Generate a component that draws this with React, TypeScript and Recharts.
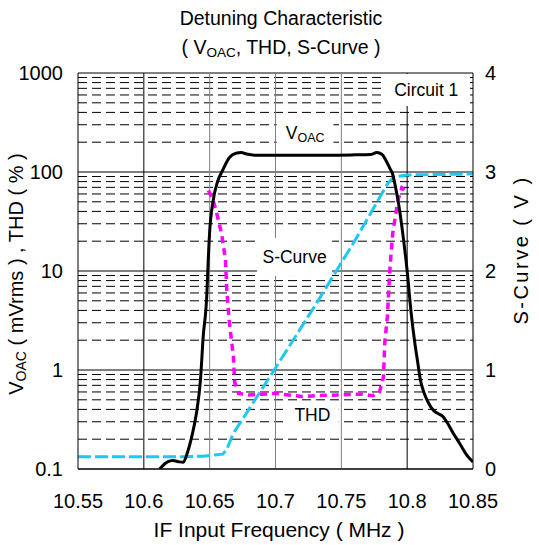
import React from 'react';
import { ComposedChart, Line, XAxis, YAxis, CartesianGrid, ReferenceArea } from 'recharts';

// ---- axis ticks ----
const xTicks = [10.55, 10.6, 10.65, 10.7, 10.75, 10.8, 10.85];
const leftTicks = [0.1, 1, 10, 100, 1000];
const rightTicks = [0, 1, 2, 3, 4];
const majorGridX = [10.6, 10.8];
const minorGridX = [10.65, 10.7, 10.75];
const decades = [0.1, 1, 10, 100];
const minorMultipliers = [2, 3, 4, 5, 6, 7, 8, 9];

// ---- V_OAC (mVrms), left log axis ----
const voacFreq = [10.612, 10.618, 10.622, 10.627, 10.63, 10.633, 10.637, 10.64, 10.643, 10.645, 10.648, 10.6485, 10.65, 10.6525, 10.656, 10.66, 10.665, 10.67, 10.674, 10.678, 10.684, 10.7, 10.72, 10.74, 10.76, 10.772, 10.777, 10.781, 10.784, 10.787, 10.789, 10.791, 10.793, 10.797, 10.8, 10.803, 10.806, 10.808, 10.81, 10.813, 10.816, 10.82, 10.824, 10.827, 10.83, 10.835, 10.84, 10.845, 10.85];
const voacVal = [0.1, 0.118, 0.122, 0.118, 0.117, 0.145, 0.23, 0.37, 0.79, 2.1, 6.4, 9.5, 25, 50, 80, 105, 140, 155, 157, 152, 148, 148, 148, 148, 149, 150, 157, 150, 130, 108, 95, 72, 52, 22, 10, 3.8, 1.8, 1.2, 0.8, 0.58, 0.47, 0.39, 0.36, 0.34, 0.3, 0.23, 0.18, 0.14, 0.118];

// ---- THD (%), left log axis ----
const thdFreq = [10.649, 10.652, 10.655, 10.659, 10.662, 10.663, 10.665, 10.668, 10.669, 10.672, 10.68, 10.69, 10.7, 10.71, 10.72, 10.73, 10.75, 10.765, 10.774, 10.779, 10.782, 10.783, 10.785, 10.786, 10.787, 10.789, 10.793, 10.796, 10.798];
const thdVal = [65, 55, 40, 24, 13, 6.4, 3.0, 1.37, 0.75, 0.58, 0.56, 0.57, 0.58, 0.56, 0.54, 0.55, 0.56, 0.57, 0.55, 0.6, 0.85, 1.9, 3.5, 6.4, 11, 24, 52, 69, 66];

// ---- S-Curve (V), right linear axis ----
const sFreq = [10.55, 10.6, 10.63, 10.645, 10.66, 10.663, 10.668, 10.7, 10.73, 10.76, 10.785, 10.79, 10.8, 10.85];
const sVal = [0.125, 0.125, 0.125, 0.13, 0.15, 0.2, 0.36, 1.02, 1.65, 2.3, 2.88, 2.95, 2.97, 2.98];

const zip = (fs: number[], vs: number[]) => fs.map((f, i) => ({ f, v: vs[i] }));
const voacData = zip(voacFreq, voacVal);
const thdData = zip(thdFreq, thdVal);
const sData = zip(sFreq, sVal);
const minorGridY = decades.flatMap((d) => minorMultipliers.map((m) => m * d));

const FONT = 'Liberation Sans, Arial, sans-serif';
const FS = 17.5;
const TFS = 20;

const boxLabel = (text: React.ReactNode) => (props: any) => {
  const vb = props.viewBox || {};
  const cx = vb.x + vb.width / 2;
  const cy = vb.y + vb.height / 2;
  return (
    <text x={cx} y={cy} textAnchor="middle" dominantBaseline="central" fontFamily={FONT} fontSize={FS} fill="#000">
      {text}
    </text>
  );
};

export default function App() {
  return (
    <div style={{ position: 'absolute', left: 0, top: 0, width: 539, height: 545, background: '#fff' }}>
      <ComposedChart width={539} height={545} margin={{ top: 73, right: 0, bottom: 0, left: 0 }}>
        <CartesianGrid yAxisId="left" horizontal vertical={false} horizontalValues={minorGridY} stroke="#000" strokeDasharray="9 5" strokeWidth={1} />
        <CartesianGrid yAxisId="left" horizontal vertical={false} horizontalValues={leftTicks} stroke="#000" strokeWidth={1} />
        <CartesianGrid yAxisId="left" horizontal={false} vertical verticalValues={majorGridX} stroke="#000" strokeWidth={1} />
        <CartesianGrid yAxisId="left" horizontal={false} vertical verticalValues={minorGridX} stroke="#808080" strokeWidth={1} />
        <XAxis
          dataKey="f"
          type="number"
          domain={[10.55, 10.85]}
          ticks={xTicks}
          allowDataOverflow
          height={76}
          tickLine={false}
          tickSize={0}
          tickMargin={25}
          axisLine={{ stroke: '#000', strokeWidth: 1 }}
          tick={{ fontSize: TFS, fill: '#000', fontFamily: FONT }}
          interval={0}
        />
        <YAxis
          yAxisId="left"
          orientation="left"
          scale="log"
          domain={[0.1, 1000]}
          ticks={leftTicks}
          allowDataOverflow
          width={78}
          tickLine={false}
          tickSize={0}
          tickMargin={15}
          axisLine={{ stroke: '#000', strokeWidth: 1 }}
          tick={{ fontSize: TFS, fill: '#000', fontFamily: FONT }}
          interval={0}
        />
        <YAxis
          yAxisId="right"
          orientation="right"
          domain={[0, 4]}
          ticks={rightTicks}
          allowDataOverflow
          width={66}
          tickLine={false}
          tickSize={0}
          tickMargin={12}
          axisLine={{ stroke: '#000', strokeWidth: 1 }}
          tick={{ fontSize: TFS, fill: '#000', fontFamily: FONT }}
          interval={0}
        />
        <ReferenceArea yAxisId="left" x1={10.783} x2={10.846} y1={464} y2={977} fill="#fff" fillOpacity={1} stroke="none" label={boxLabel('Circuit 1')} />
        <ReferenceArea yAxisId="left" x1={10.701} x2={10.744} y1={175} y2={351} fill="#fff" fillOpacity={1} stroke="none"
          label={boxLabel(<>V<tspan fontSize={12.5} dy={5}>OAC</tspan></>)} />
        <ReferenceArea yAxisId="left" x1={10.686} x2={10.743} y1={8.9} y2={21.5} fill="#fff" fillOpacity={1} stroke="none" label={boxLabel('S-Curve')} />
        <ReferenceArea yAxisId="left" x1={10.708} x2={10.748} y1={0.266} y2={0.464} fill="#fff" fillOpacity={1} stroke="none" label={boxLabel('THD')} />
        <Line yAxisId="right" data={sData} dataKey="v" type="linear" stroke="#1EC8F0" strokeWidth={3} strokeDasharray="13 4" dot={false} activeDot={false} isAnimationActive={false} />
        <Line yAxisId="left" data={thdData} dataKey="v" type="linear" stroke="#FF00FF" strokeWidth={3.5} strokeDasharray="7 5" dot={false} activeDot={false} isAnimationActive={false} />
        <Line yAxisId="left" data={voacData} dataKey="v" type="monotone" stroke="#000" strokeWidth={3} dot={false} activeDot={false} isAnimationActive={false} />
      </ComposedChart>
      <svg width={539} height={545} style={{ position: 'absolute', left: 0, top: 0, pointerEvents: 'none' }}>
        <g fontFamily={FONT} fill="#000">
          <text x={281} y={18} fontSize={19.5} textAnchor="middle" dominantBaseline="central">Detuning Characteristic</text>
          <text x={281} y={47} fontSize={19.5} textAnchor="middle" dominantBaseline="central">
            ( V<tspan fontSize={13.5} dy={5}>OAC</tspan><tspan dy={-5}>, THD, S-Curve )</tspan>
          </text>
          <text x={279} y={529} fontSize={21} textAnchor="middle" dominantBaseline="central">IF Input Frequency ( MHz )</text>
          <text transform="translate(16,274) rotate(-90)" fontSize={20} textAnchor="middle" dominantBaseline="central">
            V<tspan fontSize={14} dy={5}>OAC</tspan><tspan dy={-5}> ( mVrms ) , THD ( % )</tspan>
          </text>
          <text transform="translate(521,250) rotate(-90)" fontSize={20} letterSpacing={2.5} textAnchor="middle" dominantBaseline="central">S-Curve ( V )</text>
        </g>
      </svg>
    </div>
  );
}
